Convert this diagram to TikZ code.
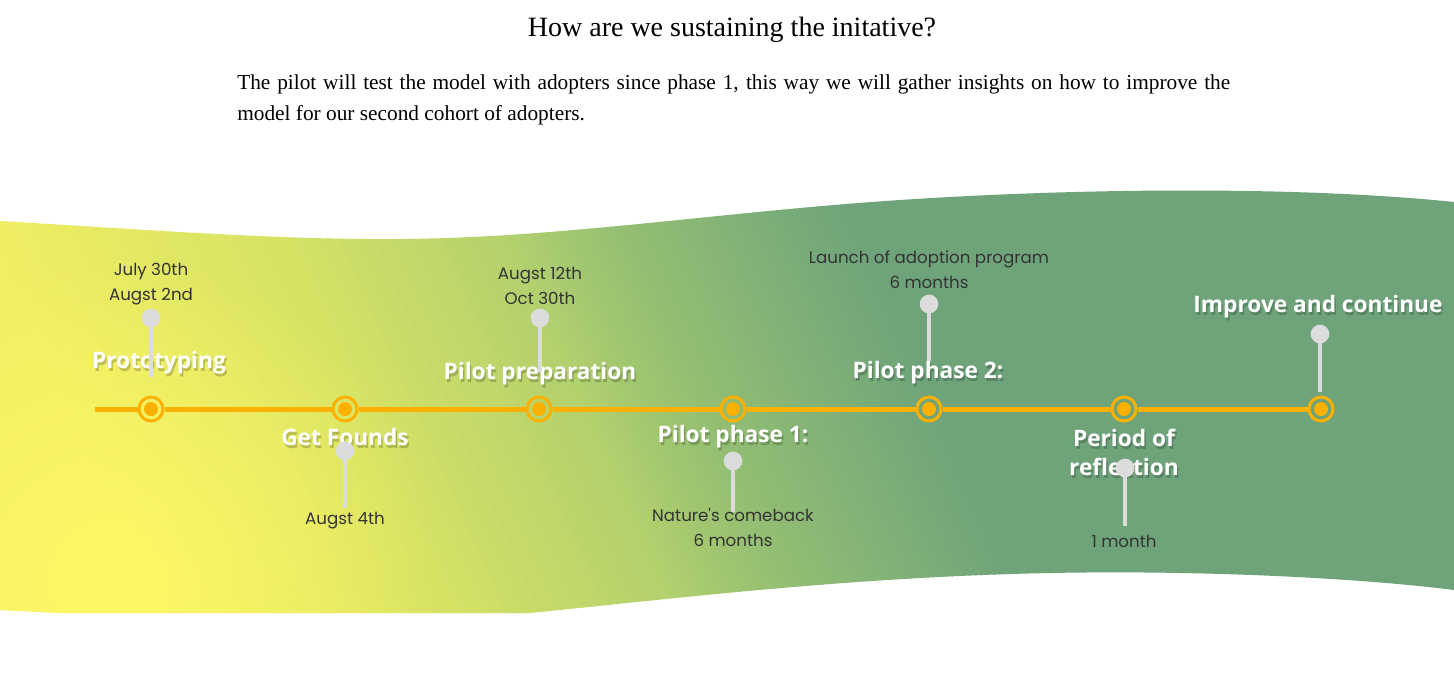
\documentclass[tikz,border=0pt]{standalone}
\usepackage{fontspec}
\usetikzlibrary{fadings}
\setmainfont{Liberation Serif}
\newfontfamily\datefont{Poppins}
\newfontfamily\labfont{Open Sans}
\definecolor{orangec}{HTML}{FCB000}
\definecolor{pingray}{HTML}{DCDCDC}
\definecolor{datec}{HTML}{333333}
\definecolor{gA}{HTML}{F0EE63}
\definecolor{gB}{HTML}{D6E264}
\definecolor{gC}{HTML}{B2D06E}
\definecolor{gD}{HTML}{95BF72}
\definecolor{gE}{HTML}{82B277}
\definecolor{gF}{HTML}{6FA47B}
\definecolor{glowc}{HTML}{FDF865}
\tikzfading[name=glowfade, inner color=transparent!0, outer color=transparent!100]
\newcommand\gradseg[4]{%
  \foreach \k in {0,...,19}{%
    \pgfmathsetmacro\pa{#1+(#2-#1)*\k/20}%
    \pgfmathsetmacro\pb{#1+(#2-#1)*(\k+1)/20+1}%
    \pgfmathtruncatemacro\mix{100*(\k+0.5)/20}%
    \fill[color=#4!\mix!#3] (\pa,-3000) rectangle (\pb,3000);
  }}
\tikzset{
  ring/.style={circle, draw=orangec, line width=2.25pt, minimum size=18pt, inner sep=0pt},
  tline/.style={draw=orangec, line width=3.75pt},
  pinhead/.style={circle, fill=pingray, minimum size=14pt, inner sep=0pt},
  stem/.style={draw=pingray, line width=3pt},
  lab/.style={text=white, font=\labfont\bfseries\fontsize{17}{21.5}\selectfont, align=center, inner sep=0pt},
  labsh/.style={text=black, text opacity=0.2, font=\labfont\bfseries\fontsize{17}{21.5}\selectfont, align=center, inner sep=0pt},
  datelab/.style={text=datec, font=\datefont\fontsize{12.5}{18.75}\selectfont, align=center, inner sep=0pt},
}
\begin{document}
\begin{tikzpicture}[x=0.75pt,y=-0.75pt]
\useasboundingbox (0,0) rectangle (1454,694);
\fill[white] (0,0) rectangle (1454,694);
% band
\begin{scope}
\clip (0,221) .. controls (150,230) and (280,240) .. (400,239)
  .. controls (560,238) and (720,212) .. (900,200)
  .. controls (1080,188) and (1300,186) .. (1454,202)
  -- (1454,590) .. controls (1360,578) and (1200,570) .. (1050,573)
  .. controls (850,577) and (680,598) .. (530,613)
  -- (60,613) -- (0,610) -- cycle;
\begin{scope}[rotate=24]
\fill[gA] (-2000,-3000) rectangle (-100,3000);
\gradseg{-100}{160}{gA}{gB}
\gradseg{160}{370}{gB}{gC}
\gradseg{370}{470}{gC}{gD}
\gradseg{470}{580}{gD}{gE}
\gradseg{580}{690}{gE}{gF}
\fill[gF] (689,-3000) rectangle (3000,3000);
\end{scope}
\fill[glowc, path fading=glowfade] (110,580) circle (330);
\end{scope}
% title and text
\node[font=\fontsize{21}{25}\selectfont, inner sep=0pt] (title) at (732,30) {How are we sustaining the initative?};
\node[anchor=west, font=\fontsize{16}{18}\selectfont, inner sep=0pt] (para1) at (237,84) {\makebox[744.75pt][s]{The pilot will test the model with adopters since phase 1, this way we will gather insights on how to improve the}};
\node[anchor=west, font=\fontsize{16}{18}\selectfont, inner sep=0pt] (para2) at (237,115) {model for our second cohort of adopters.};
% timeline
\coordinate (t0) at (95,409);
\node[ring] (m1) at (151,409) {};
\node[ring] (m2) at (345,409) {};
\node[ring] (m3) at (539,409) {};
\node[ring] (m4) at (733,409) {};
\node[ring] (m5) at (929,409) {};
\node[ring] (m6) at (1124,409) {};
\node[ring] (m7) at (1321,409) {};
\draw[tline] (t0) -- (m1);
\draw[tline] (m1) -- (m2);
\draw[tline] (m2) -- (m3);
\draw[tline] (m3) -- (m4);
\draw[tline] (m4) -- (m5);
\draw[tline] (m5) -- (m6);
\draw[tline] (m6) -- (m7);
\foreach \m in {m1,m2,m3,m4,m5,m6,m7}{\fill[orangec] (\m.center) circle (5.25pt);}
% labels with shadows
\node[labsh] (l1s) at (160.5,366) {Prototyping};
\node[lab] (l1) at (159,363) {Prototyping};
\node[labsh] (l2s) at (346.5,440) {Get Founds};
\node[lab] (l2) at (345,437) {Get Founds};
\node[labsh] (l3s) at (541.5,377) {Pilot preparation};
\node[lab] (l3) at (540,374) {Pilot preparation};
\node[labsh] (l4s) at (734.5,440) {Pilot phase 1:};
\node[lab] (l4) at (733,437) {Pilot phase 1:};
\node[labsh] (l5s) at (929.5,376) {Pilot phase 2:};
\node[lab] (l5) at (928,373) {Pilot phase 2:};
\node[labsh] (l6s) at (1125.5,455.5) {Period of\\reflection};
\node[lab] (l6) at (1124,452.5) {Period of\\reflection};
\node[labsh] (l7s) at (1319.5,310) {Improve and continue};
\node[lab] (l7) at (1318,307) {Improve and continue};
% pins
\node[pinhead] (p1) at (151,318) {};
\coordinate (s1) at (151,377);
\node[pinhead] (p2) at (345,451) {};
\coordinate (s2) at (345,508);
\node[pinhead] (p3) at (540,318) {};
\coordinate (s3) at (540,372);
\node[pinhead] (p4) at (733,461) {};
\coordinate (s4) at (733,512);
\node[pinhead] (p5) at (929,304) {};
\coordinate (s5) at (929,361);
\node[pinhead] (p6) at (1125,468) {};
\coordinate (s6) at (1125,526);
\node[pinhead] (p7) at (1320,334) {};
\coordinate (s7) at (1320,392);
\draw[stem] (p1.center) -- (s1);
\draw[stem] (p2.center) -- (s2);
\draw[stem] (p3.center) -- (s3);
\draw[stem] (p4.center) -- (s4);
\draw[stem] (p5.center) -- (s5);
\draw[stem] (p6.center) -- (s6);
\draw[stem] (p7.center) -- (s7);
% dates
\node[datelab] (d1) at (151,284) {July 30th\\Augst 2nd};
\node[datelab] (d2) at (345,521) {Augst 4th};
\node[datelab] (d3) at (540,286) {Augst 12th\\Oct 30th};
\node[datelab] (d4) at (733,527) {Nature's comeback\\6 months};
\node[datelab] (d5) at (929,270) {Launch of adoption program\\6 months};
\node[datelab] (d6) at (1124,541) {1 month};
\end{tikzpicture}
\end{document}
